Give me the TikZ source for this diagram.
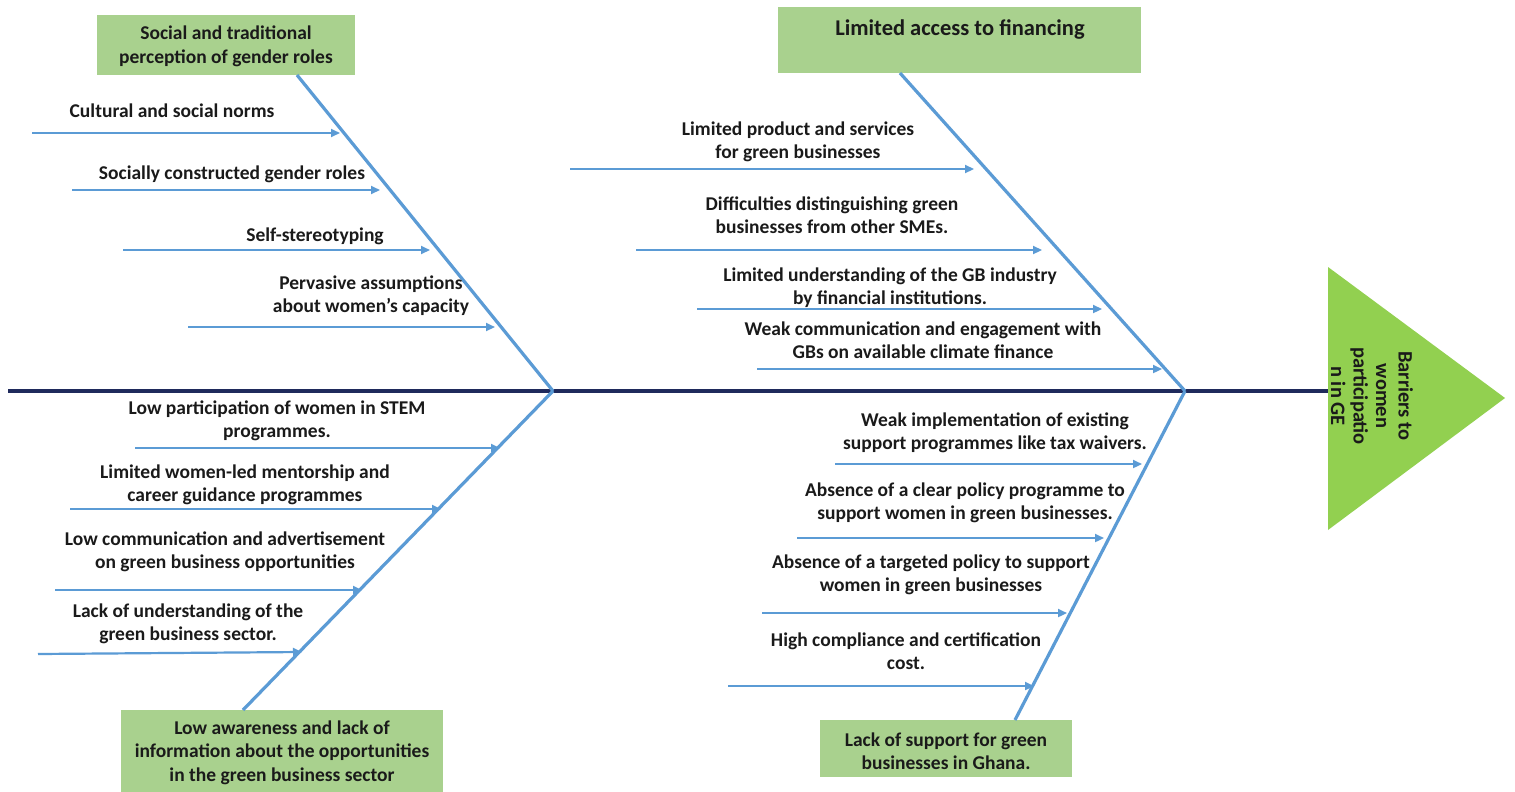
\documentclass[tikz,border=0pt]{standalone}
\usepackage{fontspec}
\setmainfont{Carlito}
\usetikzlibrary{arrows.meta,calc}
\definecolor{boxgreen}{HTML}{A9D18E}
\definecolor{trigreen}{HTML}{92D050}
\definecolor{boneblue}{HTML}{5B9BD5}
\definecolor{spinenavy}{HTML}{1F2A5C}
\definecolor{txt}{HTML}{1A1A1A}
\tikzset{
  catbox/.style={fill=boxgreen, draw=none, inner sep=0pt},
  cattext/.style={text=txt, font=\bfseries\fontsize{19.5}{23.5}\selectfont, align=center, inner sep=0pt, yshift=-2.5pt},
  lbl/.style={text=txt, font=\bfseries\fontsize{19.5}{23}\selectfont, align=center, inner sep=0pt, yshift=-2.5pt},
  headtext/.style={text=txt, font=\bfseries\fontsize{20.5}{22.5}\selectfont, align=center, inner sep=0pt},
  bonestyle/.style={draw=boneblue, line width=3.2pt},
  spinestyle/.style={draw=spinenavy, line width=4.5pt},
  subarrow/.style={draw=boneblue, line width=2.2pt, -{Triangle[length=9pt,width=8pt]}},
}
\begin{document}
\begin{tikzpicture}[x=1pt,y=-1pt]
\useasboundingbox (0,0) rectangle (1515,792);
\fill[white] (0,0) rectangle (1515,792);

% ---- head (triangle) ----
\coordinate (triW) at (1328,391);
\fill[trigreen] (1328,267) -- (1505,398) -- (1328,530) -- cycle;
\node[headtext, rotate=-90] (head) at (1372,396) {Barriers to\\women\\participatio\\n in GE};

% ---- spine ----
\coordinate (tail) at (8,391);
\coordinate (J1) at (553,391);
\coordinate (J2) at (1185,391);
\draw[spinestyle] (tail) -- (triW);

% ---- category boxes ----
\node[catbox, minimum width=258pt, minimum height=60pt] (c1) at (226,45) {};
\node[cattext] (c1t) at (226,44) {Social and traditional\\perception of gender roles};

\node[catbox, minimum width=322pt, minimum height=82pt] (c2) at (282,751) {};
\node[cattext] (c2t) at (282,750) {Low awareness and lack of\\information about the opportunities\\in the green business sector};

\node[catbox, minimum width=363pt, minimum height=66pt] (c3) at (959.5,40) {};
\node[cattext, font=\bfseries\fontsize{22.5}{26}\selectfont, yshift=1pt] (c3t) at (960,28) {Limited access to financing};

\node[catbox, minimum width=252pt, minimum height=57pt] (c4) at (946,748.5) {};
\node[cattext] (c4t) at (946,748.5) {Lack of support for green\\businesses in Ghana.};

% ---- bones ----
\coordinate (b1) at (297,75);
\coordinate (b2) at (243,710);
\coordinate (b3) at (900,73);
\coordinate (b4) at (1015,720);
\draw[bonestyle] (b1) -- (J1);
\draw[bonestyle] (b2) -- (J1);
\draw[bonestyle] (b3) -- (J2);
\draw[bonestyle] (b4) -- (J2);

% ---- left top causes ----
\node[lbl] (l1) at (172,108) {Cultural and social norms};
\coordinate (l1s) at (32,133); \coordinate (l1e) at (340,133);
\draw[subarrow] (l1s) -- (l1e);
\node[lbl] (l2) at (232,172) {Socially constructed gender roles};
\coordinate (l2s) at (72,190); \coordinate (l2e) at (380,190);
\draw[subarrow] (l2s) -- (l2e);
\node[lbl] (l3) at (315,234) {Self-stereotyping};
\coordinate (l3s) at (123,250); \coordinate (l3e) at (430,250);
\draw[subarrow] (l3s) -- (l3e);
\node[lbl] (l4) at (371,293) {Pervasive assumptions\\about women’s capacity};
\coordinate (l4s) at (188,327); \coordinate (l4e) at (495,327);
\draw[subarrow] (l4s) -- (l4e);

% ---- left bottom causes ----
\node[lbl] (m1) at (277,418) {Low participation of women in STEM\\programmes.};
\coordinate (m1s) at (135,448); \coordinate (m1e) at (500,448);
\draw[subarrow] (m1s) -- (m1e);
\node[lbl] (m2) at (245,482) {Limited women-led mentorship and\\career guidance programmes};
\coordinate (m2s) at (70,509); \coordinate (m2e) at (441,509);
\draw[subarrow] (m2s) -- (m2e);
\node[lbl] (m3) at (225,549) {Low communication and advertisement\\on green business opportunities};
\coordinate (m3s) at (55,590); \coordinate (m3e) at (362,590);
\draw[subarrow] (m3s) -- (m3e);
\node[lbl] (m4) at (188,621) {Lack of understanding of the\\green business sector.};
\coordinate (m4s) at (38,654); \coordinate (m4e) at (302,652);
\draw[subarrow] (m4s) -- (m4e);

% ---- right top causes ----
\node[lbl] (r1) at (798,139) {Limited product and services\\for green businesses};
\coordinate (r1s) at (570,169); \coordinate (r1e) at (974,169);
\draw[subarrow] (r1s) -- (r1e);
\node[lbl] (r2) at (832,213) {Difficulties distinguishing green\\businesses from other SMEs.};
\coordinate (r2s) at (636,250); \coordinate (r2e) at (1042,250);
\draw[subarrow] (r2s) -- (r2e);
\node[lbl] (r3) at (890,285) {Limited understanding of the GB industry\\by financial institutions.};
\coordinate (r3s) at (697,309); \coordinate (r3e) at (1102,309);
\draw[subarrow] (r3s) -- (r3e);
\node[lbl] (r4) at (923,338) {Weak communication and engagement with\\GBs on available climate finance};
\coordinate (r4s) at (757,369); \coordinate (r4e) at (1162,369);
\draw[subarrow] (r4s) -- (r4e);

% ---- right bottom causes ----
\node[lbl] (s1) at (995,430) {Weak implementation of existing\\support programmes like tax waivers.};
\coordinate (s1s) at (835,464); \coordinate (s1e) at (1142,464);
\draw[subarrow] (s1s) -- (s1e);
\node[lbl] (s2) at (965,500) {Absence of a clear policy programme to\\support women in green businesses.};
\coordinate (s2s) at (797,538); \coordinate (s2e) at (1104,538);
\draw[subarrow] (s2s) -- (s2e);
\node[lbl] (s3) at (931,572) {Absence of a targeted policy to support\\women in green businesses};
\coordinate (s3s) at (762,613); \coordinate (s3e) at (1067,613);
\draw[subarrow] (s3s) -- (s3e);
\node[lbl] (s4) at (906,649) {High compliance and certification\\cost.};
\coordinate (s4s) at (728,686); \coordinate (s4e) at (1034,686);
\draw[subarrow] (s4s) -- (s4e);
\end{tikzpicture}
\end{document}
